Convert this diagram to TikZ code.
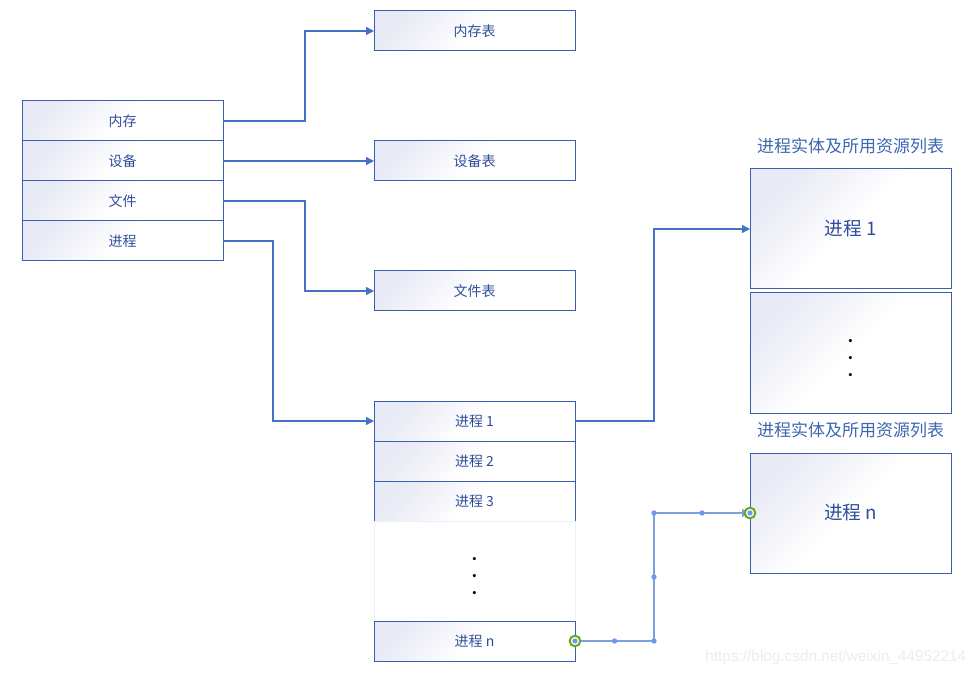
\documentclass[tikz,border=0pt]{standalone}
\usepackage{fontspec}
\setmainfont{Noto Sans CJK SC}
\newfontfamily\wmfont{Liberation Sans}
\usepackage{xcolor}
\usetikzlibrary{arrows.meta,positioning,calc}
\definecolor{linkblue}{HTML}{4472C4}
\definecolor{boxline}{HTML}{3B5EAE}
\definecolor{boxtext}{HTML}{2F4E9C}
\definecolor{boxfill}{HTML}{E8EAF5}
\definecolor{sellink}{HTML}{7E9EDF}
\definecolor{selhandle}{HTML}{6D98F0}
\definecolor{selgreen}{HTML}{6BA81E}
\newcommand{\vdotcol}{\begin{tabular}{@{}c@{}}\textbf{.}\\\textbf{.}\\\textbf{.}\end{tabular}}

\begin{document}
\begin{tikzpicture}[x=0.75pt,y=-0.75pt, node distance=0pt,
  every node/.style={font=\fontsize{10.5}{12}\selectfont, text=boxtext},
  cell/.style={draw=boxline, line width=0.75pt, top color=boxfill, bottom color=white, middle color=white, shading angle=45,
    minimum width=150.75pt, minimum height=30pt, inner sep=0pt, outer sep=0pt},
  bigbox/.style={cell, minimum height=90pt, font=\fontsize{14}{16}\selectfont},
  gapbox/.style={draw=boxline!10, fill=white, minimum width=150.75pt, minimum height=75pt, inner sep=0pt, outer sep=0pt},
  dotcol/.style={label={[text=black, font=\fontsize{11}{12.75}\selectfont, yshift=-2.5pt]center:\vdotcol}},
  caption/.style={font=\fontsize{12.75}{14}\selectfont, text=linkblue!90!black},
  link/.style={draw=linkblue, line width=0.9pt, -{Triangle[length=6pt,width=6pt]}},
  sellink/.style={draw=sellink, line width=1.3pt, -{Triangle[length=6pt,width=6pt]}},
  handle/.style={fill=selhandle, draw=none},
  endring/.style={draw=selgreen, line width=1.5pt, fill=white}]
\fill[white] (0,0) rectangle (978,677);
\useasboundingbox (0,0) rectangle (978,677);

\node[cell] (mem) at (122.5,121) {内存};
\node[cell,below=of mem] (dev) {设备};
\node[cell,below=of dev] (file) {文件};
\node[cell,below=of file] (proc) {进程};

\node[cell] (memtab) at (474.5,31) {内存表};
\node[cell] (devtab) at (474.5,161) {设备表};
\node[cell] (filetab) at (474.5,291) {文件表};

\node[cell] (p1) at (474.5,421) {进程 1};
\node[cell,below=of p1] (p2) {进程 2};
\node[cell,below=of p2] (p3) {进程 3};
\node[gapbox,dotcol,below=of p3] (pgap) {};
\node[cell,below=of pgap] (pn) {进程 n};

\node[bigbox] (ent1) at (850.5,229) {进程 1};
\node[bigbox,dotcol] (entgap) at (850.5,353) {};
\node[bigbox] (entn) at (850.5,513) {进程 n};
\node[caption,above=8pt of ent1] (cap1) {进程实体及所用资源列表};
\node[caption,above=8pt of entn] (capn) {进程实体及所用资源列表};

\draw[link] (mem.east) -- ++(82,0) |- (memtab.west);
\draw[link] (dev.east) -- (devtab.west);
\draw[link] (file.east) -- ++(82,0) |- (filetab.west);
\draw[link] (proc.east) -- ++(50,0) |- (p1.west);
\draw[link] (p1.east) -- ++(79,0) |- (ent1.west);

\coordinate (bendlow) at ($(pn.east)+(79,0)$);
\coordinate (bendhigh) at (bendlow |- entn.west);
\coordinate (midlow) at ($(pn.east)!.5!(bendlow)$);
\coordinate (midup) at ($(bendlow)!.5!(bendhigh)$);
\coordinate (midhigh) at ($(bendhigh)!.5!(entn.west)$);
\draw[sellink] (pn.east) -- (bendlow) -- (bendhigh) -- (entn.west);
\foreach \pt in {bendlow,bendhigh,midlow,midup,midhigh}
  \fill[handle] (\pt) circle (2pt);
\foreach \pt in {pn.east,entn.west}{
  \draw[endring] (\pt) circle (4pt);
  \fill[handle] (\pt) circle (2pt);
}

\node[font=\wmfont\fontsize{11.5}{13}\selectfont, text=black!7, anchor=east] (wm) at (971,658) {https://blog.csdn.net/weixin\_44952214};
\end{tikzpicture}
\end{document}
